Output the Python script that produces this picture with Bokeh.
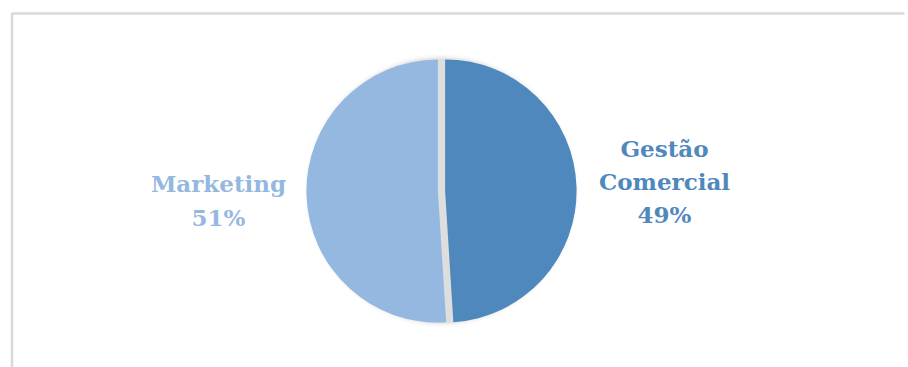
import math
from bokeh.plotting import figure
from bokeh.models import Range1d, ColumnDataSource
from bokeh.core.properties import value
from bokeh.embed import file_html
from bokeh.resources import INLINE

# Data
categories = ["Gestão Comercial", "Marketing"]
label_lines = ["Gestão\nComercial", "Marketing"]
shares = [49, 51]
colors = ["#4f88bd", "#95b8e0"]

W, H = 908, 367
p = figure(width=W, height=H, output_backend="svg", toolbar_location=None,
           x_range=Range1d(0, W), y_range=Range1d(0, H), min_border=0)
p.axis.visible = False
p.grid.visible = False
p.outline_line_color = None
p.background_fill_color = "white"
p.border_fill_color = "white"

# chart frame: only top and left edges are inside the window
p.line(x=[11.5, 11.5, W - 4], y=[0, H - 13, H - 13],
       line_color="#d9d9d9", line_width=2.5)

cx, cy, r, explode = 441, H - 190.5, 131.5, 3.6

# soft shadow
for extra, alpha in [(5, 0.06), (3, 0.1), (1.5, 0.16)]:
    p.circle(x=[cx], y=[cy + 0.5], radius=r + extra, fill_color="#b0b0b0",
             fill_alpha=alpha, line_color=None)
p.circle(x=[cx], y=[cy], radius=r + 0.5, fill_color="#dedede", line_color=None)

total = sum(shares)
starts, ends, xs, ys = [], [], [], []
ang = 90.0
for s in shares:
    sweep = 360.0 * s / total
    # clockwise from 12 o'clock
    end = ang
    start = ang - sweep
    mid = math.radians((start + end) / 2)
    starts.append(math.radians(start))
    ends.append(math.radians(end))
    xs.append(cx + explode * math.cos(mid))
    ys.append(cy + explode * math.sin(mid))
    ang = start

src = ColumnDataSource(dict(x=xs, y=ys, start=starts, end=ends, color=colors))
p.wedge(x="x", y="y", radius=r, start_angle="start", end_angle="end",
        fill_color="color", line_color=None, source=src)

# labels
texts = [f"{l}\n{s}%" for l, s in zip(label_lines, shares)]
lab = ColumnDataSource(dict(x=[664, 218], y=[H - 181, H - 200], text=texts, color=colors))
p.text(x="x", y="y", text="text", text_color="color", source=lab,
       text_font=value("DejaVu Serif"), text_font_style="bold",
       text_font_size="23px", text_align="center", text_baseline="middle",
       text_line_height=1.24)

open("out.html", "w").write(file_html(p, INLINE))
